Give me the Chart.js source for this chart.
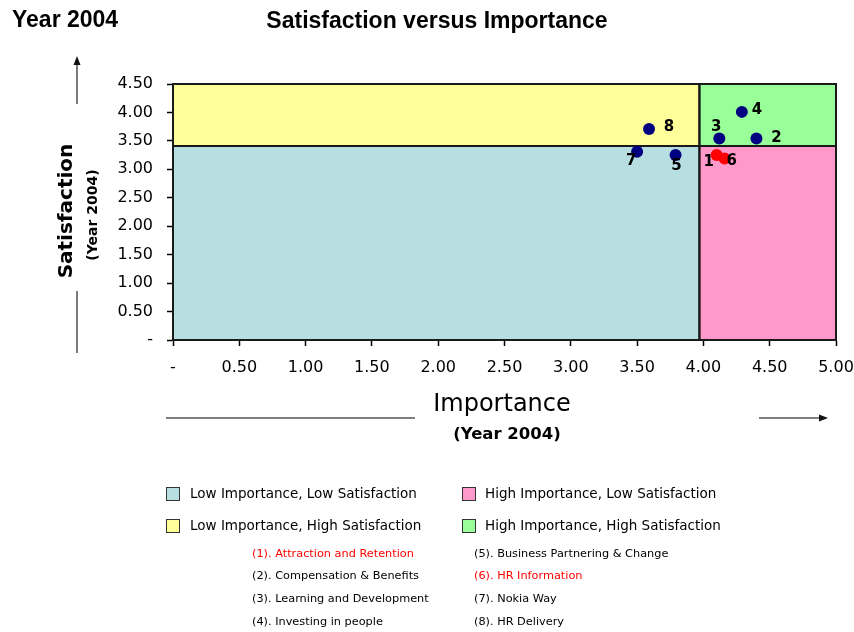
<!DOCTYPE html>
<html>
<head>
<meta charset="utf-8">
<script src="https://cdn.jsdelivr.net/npm/chart.js@4"></script>
<style>
  html, body { margin: 0; padding: 0; background: #fff; }
  #wrap { position: relative; width: 854px; height: 632px; overflow: hidden; }
  #chart { position: absolute; left: 0; top: 0; }
  .txt { position: absolute; white-space: nowrap; color: #000; line-height: 1; }
  .head { font-family: "Liberation Sans", Arial, sans-serif; font-weight: bold; font-size: 23px; }
  .rot { transform-origin: center center; transform: translate(-50%, -50%) rotate(-90deg); font-family: "DejaVu Sans", sans-serif; font-weight: bold; }
  .ctr { transform: translate(-50%, -50%); font-family: "DejaVu Sans", sans-serif; }
  .key { position: absolute; font-family: "DejaVu Sans", sans-serif; font-size: 13.5px; line-height: 1; white-space: nowrap; transform: translateY(-50%); }
  .sw { position: absolute; width: 12px; height: 12px; border: 1px solid #333; transform: translateY(-50%); }
  .item { position: absolute; font-family: "DejaVu Sans", sans-serif; font-size: 11.3px; line-height: 1; white-space: nowrap; transform: translateY(-50%); }
  .red { color: #ff0000; }
</style>
</head>
<body>
<div id="wrap">
  <canvas id="chart" width="854" height="632"></canvas>

  <div class="txt head" style="left:12px; top:8px;">Year 2004</div>
  <div class="txt head ctr" style="left:437px; top:20px; font-family:'Liberation Sans', Arial, sans-serif; font-weight:bold;">Satisfaction versus Importance</div>

  <div class="txt rot" style="left:65px; top:211px; font-size:20px;">Satisfaction</div>
  <div class="txt rot" style="left:92px; top:215px; font-size:14px;">(Year 2004)</div>

  <div class="txt ctr" style="left:502px; top:403px; font-size:24px;">Importance</div>
  <div class="txt ctr" style="left:507px; top:434px; font-size:16.5px; font-weight:bold;">(Year 2004)</div>

  <div class="sw" style="left:166px; top:494px; background:#b7dfe2;"></div>
  <div class="key" style="left:190px; top:494px;">Low Importance, Low Satisfaction</div>
  <div class="sw" style="left:462px; top:494px; background:#ff99cc;"></div>
  <div class="key" style="left:485px; top:494px;">High Importance, Low Satisfaction</div>
  <div class="sw" style="left:166px; top:526px; background:#ffff99;"></div>
  <div class="key" style="left:190px; top:526px;">Low Importance, High Satisfaction</div>
  <div class="sw" style="left:462px; top:526px; background:#99ff99;"></div>
  <div class="key" style="left:485px; top:526px;">High Importance, High Satisfaction</div>

  <div class="item red" style="left:252px; top:554px;">(1). Attraction and Retention</div>
  <div class="item" style="left:252px; top:576px;">(2). Compensation &amp; Benefits</div>
  <div class="item" style="left:252px; top:599px;">(3). Learning and Development</div>
  <div class="item" style="left:252px; top:622px;">(4). Investing in people</div>
  <div class="item" style="left:474px; top:554px;">(5). Business Partnering &amp; Change</div>
  <div class="item red" style="left:474px; top:576px;">(6). HR Information</div>
  <div class="item" style="left:474px; top:599px;">(7). Nokia Way</div>
  <div class="item" style="left:474px; top:622px;">(8). HR Delivery</div>
</div>

<script>
// HR areas, numbered 1..8
const areaNumbers = ['1', '2', '3', '4', '5', '6', '7', '8'];
const importance   = [4.10, 4.40, 4.12, 4.29, 3.79, 4.16, 3.50, 3.59];
const satisfaction = [3.25, 3.54, 3.54, 4.01, 3.25, 3.19, 3.31, 3.71];
// areas highlighted in red
const highlighted  = [true, false, false, false, false, true, false, false];

// quadrant split lines
const splitImportance = 3.97;
const splitSatisfaction = 3.41;

// axis ranges and tick labels
const xMax = 5.0, yMax = 4.5, tickStep = 0.5;
const xTickLabels = ['-', '0.50', '1.00', '1.50', '2.00', '2.50', '3.00', '3.50', '4.00', '4.50', '5.00'];
const yTickLabels = ['-', '0.50', '1.00', '1.50', '2.00', '2.50', '3.00', '3.50', '4.00', '4.50'];

// where each number sits relative to its dot (pixels)
const labelOffsets = [[-8, 7], [20, -1], [-3, -12], [15, -2], [1, 11], [7, 3], [-6, 9], [20, -2]];

const quadrantColors = { lowLow: '#b7dfe2', highLow: '#ff99cc', lowHigh: '#ffff99', highHigh: '#99ff99' };

const points = importance.map((x, i) => ({ x: x, y: satisfaction[i] }));

const quadrants = {
  id: 'quadrants',
  beforeDatasetsDraw(chart) {
    const { ctx, scales: { x, y } } = chart;
    const x0 = x.getPixelForValue(0), xs = x.getPixelForValue(splitImportance), x1 = x.getPixelForValue(xMax);
    const y0 = y.getPixelForValue(0), ys = y.getPixelForValue(splitSatisfaction), y1 = y.getPixelForValue(yMax);
    const rects = [
      [x0, ys, xs, y0, quadrantColors.lowLow],
      [xs, ys, x1, y0, quadrantColors.highLow],
      [x0, y1, xs, ys, quadrantColors.lowHigh],
      [xs, y1, x1, ys, quadrantColors.highHigh]
    ];
    ctx.save();
    rects.forEach(([l, t, r, b, c]) => {
      ctx.fillStyle = c;
      ctx.fillRect(l, t, r - l, b - t);
    });
    ctx.strokeStyle = '#1a1a1a';
    ctx.lineWidth = 2;
    rects.forEach(([l, t, r, b]) => ctx.strokeRect(l, t, r - l, b - t));
    ctx.restore();
  }
};

const numberLabels = {
  id: 'numberLabels',
  afterDatasetsDraw(chart) {
    const { ctx } = chart;
    const meta = chart.getDatasetMeta(0);
    ctx.save();
    ctx.font = 'bold 15px "DejaVu Sans", sans-serif';
    ctx.fillStyle = '#000';
    ctx.textAlign = 'center';
    ctx.textBaseline = 'middle';
    meta.data.forEach((pt, i) => {
      const [dx, dy] = labelOffsets[i];
      ctx.fillText(areaNumbers[i], pt.x + dx, pt.y + dy);
    });
    ctx.restore();
  }
};

// direction arrows beside the axis titles
const arrows = {
  id: 'arrows',
  afterDraw(chart) {
    const { ctx } = chart;
    ctx.save();
    ctx.strokeStyle = '#333';
    ctx.fillStyle = '#111';
    ctx.lineWidth = 1.3;
    const line = (ax, ay, bx, by) => { ctx.beginPath(); ctx.moveTo(ax, ay); ctx.lineTo(bx, by); ctx.stroke(); };
    line(77, 64, 77, 104);
    line(77, 291, 77, 353);
    ctx.beginPath(); ctx.moveTo(77, 56); ctx.lineTo(73.5, 65); ctx.lineTo(80.5, 65); ctx.closePath(); ctx.fill();
    ctx.strokeStyle = '#555';
    line(166, 418, 415, 418);
    line(759, 418, 820, 418);
    ctx.beginPath(); ctx.moveTo(828, 418); ctx.lineTo(819, 414.5); ctx.lineTo(819, 421.5); ctx.closePath(); ctx.fill();
    ctx.restore();
  }
};

new Chart(document.getElementById('chart'), {
  type: 'scatter',
  data: {
    datasets: [{
      data: points,
      pointRadius: 6,
      pointHoverRadius: 6,
      pointBorderWidth: 0,
      pointBackgroundColor: highlighted.map(h => h ? '#ff0000' : '#000080'),
      pointBorderColor: highlighted.map(h => h ? '#ff0000' : '#000080')
    }]
  },
  options: {
    responsive: false,
    animation: false,
    events: [],
    layout: { padding: { top: 84, right: 18, left: 0, bottom: 0 } },
    plugins: { legend: { display: false }, tooltip: { enabled: false } },
    scales: {
      x: {
        type: 'linear', min: 0, max: xMax,
        afterFit(s) { s.height = 292; s.paddingLeft = 0; s.paddingRight = 0; },
        border: { color: '#000', width: 2 },
        grid: { drawOnChartArea: false, drawTicks: true, tickLength: 6, color: '#000', tickWidth: 1.5 },
        ticks: {
          stepSize: tickStep, padding: 12, color: '#000',
          font: { family: '"DejaVu Sans", sans-serif', size: 16 },
          callback: (v) => xTickLabels[Math.round(v / tickStep)]
        }
      },
      y: {
        type: 'linear', min: 0, max: yMax,
        afterFit(s) { s.width = 173; s.paddingTop = 0; s.paddingBottom = 0; },
        border: { color: '#000', width: 2 },
        grid: { drawOnChartArea: false, drawTicks: true, tickLength: 6, color: '#000', tickWidth: 1.5 },
        ticks: {
          stepSize: tickStep, padding: 14, color: '#000',
          font: { family: '"DejaVu Sans", sans-serif', size: 16 },
          callback: (v) => yTickLabels[Math.round(v / tickStep)]
        }
      }
    }
  },
  plugins: [quadrants, numberLabels, arrows]
});
</script>
</body>
</html>
